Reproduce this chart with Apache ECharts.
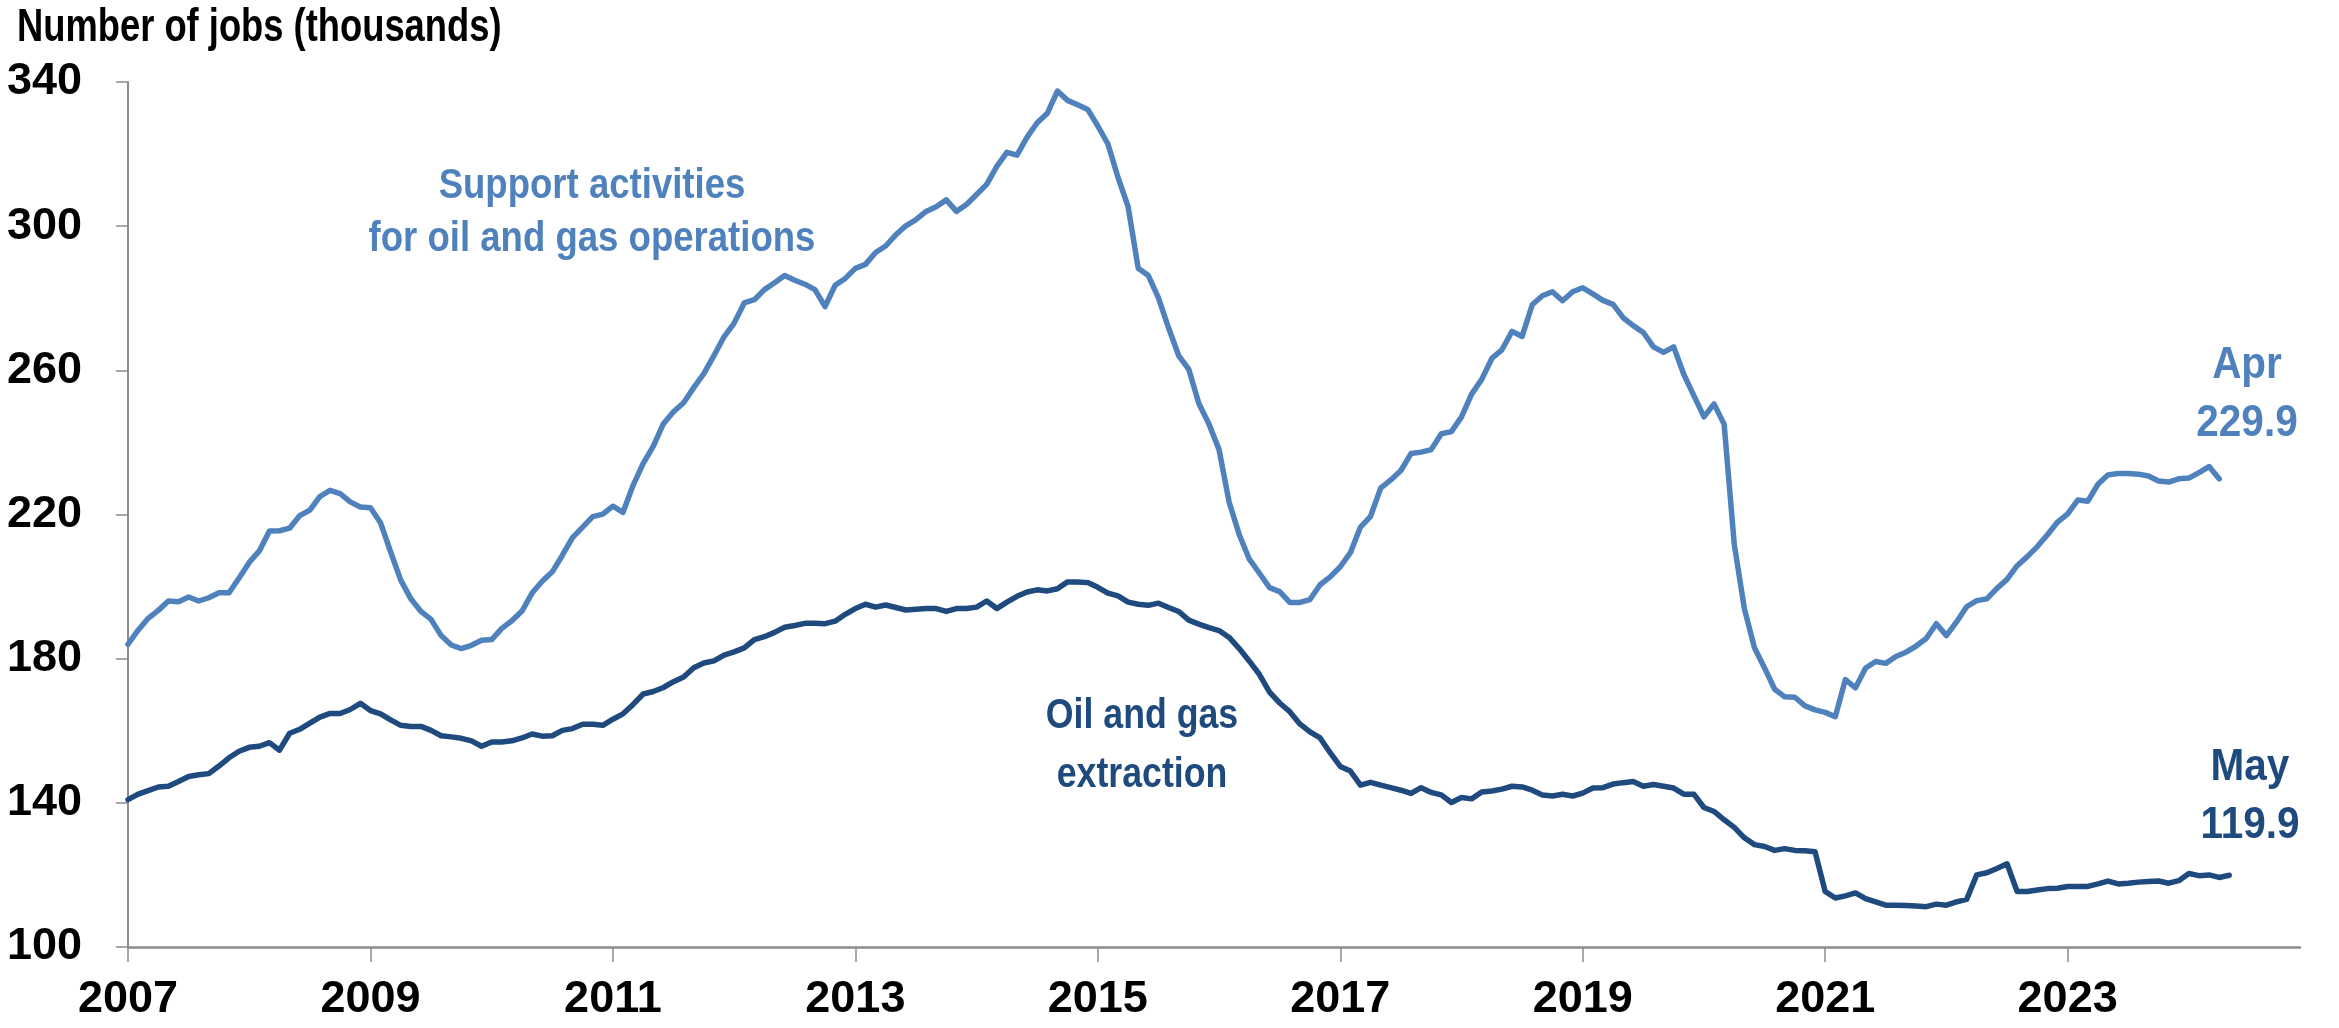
<!DOCTYPE html>
<html>
<head>
<meta charset="utf-8">
<title>Oil and gas jobs</title>
<script src="https://cdn.jsdelivr.net/npm/echarts@6/dist/echarts.min.js"></script>
<style>
  html, body { margin: 0; padding: 0; background: #fff; }
  #chart { width: 2339px; height: 1028px; }
</style>
</head>
<body>
<div id="chart"></div>
<script>
// monthly series, Jan 2007 onward (thousands of jobs)
var startYear = 2007;
var yearTicks = [2007, 2009, 2011, 2013, 2015, 2017, 2019, 2021, 2023];

// Support activities for oil and gas operations, Jan 2007 - Apr 2024
var supportJobs = [
  184.0, 187.9, 191.2, 193.4, 196.0, 195.8, 197.1, 196.0, 196.9, 198.3, 198.3, 202.4,
  206.7, 209.9, 215.4, 215.5, 216.2, 219.7, 221.2, 225.0, 226.7, 225.8, 223.5, 222.1,
  221.9, 217.7, 209.6, 201.8, 196.6, 193.1, 190.9, 186.4, 183.8, 182.8, 183.7, 185.1,
  185.3, 188.4, 190.5, 193.2, 198.2, 201.5, 204.1, 208.7, 213.6, 216.5, 219.4, 220.1,
  222.3, 220.6, 228.1, 234.2, 239.0, 245.2, 248.5, 251.0, 255.2, 259.1, 264.1, 269.3,
  273.1, 278.7, 279.6, 282.4, 284.3, 286.3, 285.0, 283.9, 282.4, 277.7, 283.6, 285.5,
  288.3, 289.4, 292.7, 294.5, 297.6, 300.1, 301.8, 304.1, 305.4, 307.3, 304.1, 306.0,
  308.8, 311.6, 316.6, 320.5, 319.7, 324.7, 328.7, 331.3, 337.5, 334.9, 333.7, 332.4,
  327.8, 322.8, 313.5, 305.4, 288.3, 286.3, 280.1, 271.8, 264.1, 260.3, 250.8, 245.1,
  238.0, 223.4, 214.4, 207.6, 203.7, 199.7, 198.6, 195.6, 195.6, 196.4, 200.5, 202.7,
  205.5, 209.4, 216.5, 219.5, 227.3, 229.6, 232.2, 236.9, 237.3, 238.0, 242.4, 243.0,
  247.1, 253.4, 257.5, 263.3, 265.7, 270.8, 269.4, 278.2, 280.7, 281.8, 279.3, 281.8,
  282.9, 281.2, 279.4, 278.3, 274.6, 272.4, 270.5, 266.5, 265.0, 266.5, 258.9, 253.0,
  247.1, 250.7, 245.0, 211.7, 193.9, 183.0, 177.4, 171.5, 169.4, 169.3, 166.9, 165.8,
  165.1, 163.9, 174.2, 171.9, 177.4, 179.2, 178.7, 180.6, 181.8, 183.5, 185.6, 189.7,
  186.4, 190.2, 194.4, 196.1, 196.6, 199.5, 202.0, 205.8, 208.3, 211.1, 214.4, 217.9,
  220.2, 224.0, 223.7, 228.4, 231.0, 231.4, 231.4, 231.2, 230.7, 229.3, 229.0, 229.9,
  230.1, 231.6, 233.3, 229.9
];

// Oil and gas extraction, Jan 2007 - May 2024
var extractionJobs = [
  140.9, 142.4, 143.4, 144.4, 144.6, 145.9, 147.3, 147.8, 148.1, 150.2, 152.5, 154.3,
  155.4, 155.7, 156.7, 154.6, 159.3, 160.4, 162.1, 163.8, 164.8, 164.8, 165.9, 167.6,
  165.6, 164.7, 163.0, 161.5, 161.2, 161.2, 160.1, 158.6, 158.3, 157.9, 157.2, 155.7,
  156.9, 156.9, 157.2, 158.0, 159.1, 158.5, 158.6, 160.1, 160.6, 161.8, 161.8, 161.5,
  163.2, 164.7, 167.3, 170.2, 170.9, 172.0, 173.6, 174.9, 177.5, 178.8, 179.4, 181.0,
  181.9, 183.0, 185.3, 186.1, 187.3, 188.7, 189.2, 189.8, 189.8, 189.7, 190.4, 192.3,
  193.9, 195.1, 194.3, 194.9, 194.2, 193.5, 193.7, 193.9, 193.9, 193.1, 193.9, 193.9,
  194.3, 196.0, 193.9, 195.7, 197.3, 198.5, 199.1, 198.8, 199.4, 201.3, 201.3, 201.1,
  199.8, 198.2, 197.4, 195.7, 195.1, 194.8, 195.4, 194.2, 193.1, 190.7, 189.6, 188.6,
  187.8, 185.9, 182.8, 179.3, 175.6, 170.7, 167.7, 165.3, 161.9, 159.7, 158.0, 153.9,
  150.1, 148.8, 144.9, 145.7, 144.9, 144.2, 143.5, 142.6, 144.2, 142.9, 142.2, 140.1,
  141.5, 141.1, 143.0, 143.3, 143.8, 144.6, 144.4, 143.5, 142.2, 141.9, 142.4, 141.9,
  142.7, 144.1, 144.2, 145.2, 145.6, 145.9, 144.6, 145.1, 144.6, 144.1, 142.4, 142.4,
  138.7, 137.6, 135.3, 133.2, 130.3, 128.4, 127.9, 126.8, 127.3, 126.8, 126.7, 126.4,
  115.4, 113.6, 114.2, 115.0, 113.4, 112.5, 111.6, 111.6, 111.5, 111.4, 111.2, 111.9,
  111.6, 112.5, 113.2, 120.0, 120.6, 121.8, 123.1, 115.4, 115.4, 115.8, 116.2, 116.3,
  116.8, 116.8, 116.8, 117.5, 118.3, 117.5, 117.7, 118.0, 118.2, 118.3, 117.7, 118.4,
  120.4, 119.8, 120.0, 119.3, 119.9
];

var yTicks = [100, 140, 180, 220, 260, 300, 340];

var lightBlue = "#4f81bd";
var darkBlue = "#1f4a7e";
var fontFam = "'Liberation Sans', Arial, sans-serif";

// x = months since Jan 2007
function toPairs(list) {
  return list.map(function (v, i) { return [i, v]; });
}

// narrowed bold text (no condensed face installed, so squeeze horizontally)
function note(x, y, text, size, color, lh, sx, align, valign) {
  return {
    type: "text", x: x, y: y, scaleX: sx, scaleY: 1,
    style: {
      text: text,
      font: "bold " + size + "px " + fontFam, fill: color,
      textAlign: align || "center", textVerticalAlign: valign || "middle", lineHeight: lh
    }
  };
}

var chart = echarts.init(document.getElementById("chart"));

var option = {
  animation: false,
  backgroundColor: "#fff",
  grid: { left: 128, right: 39, top: 82, bottom: 81, containLabel: false, outerBoundsMode: "none" },
  xAxis: {
    type: "value",
    min: 0,
    max: 215,
    interval: 24,
    axisLine: { show: true, onZero: false, lineStyle: { color: "#8c8c8c", width: 2.5 } },
    axisTick: { show: true, inside: false, length: 15, lineStyle: { color: "#8c8c8c", width: 1.5 } },
    splitLine: { show: false },
    axisLabel: {
      margin: 30,
      showMaxLabel: false,
      fontFamily: fontFam,
      fontWeight: "bold",
      fontSize: 45,
      color: "#000",
      formatter: function (v) {
        var y = startYear + v / 12;
        return yearTicks.indexOf(y) >= 0 ? String(y) : "";
      }
    }
  },
  yAxis: {
    type: "value",
    min: yTicks[0],
    max: yTicks[yTicks.length - 1],
    interval: 40,
    axisLine: { show: true, lineStyle: { color: "#8c8c8c", width: 2 } },
    axisTick: { show: true, inside: false, length: 12, lineStyle: { color: "#8c8c8c", width: 1.5 } },
    splitLine: { show: false },
    axisLabel: { margin: 46, fontFamily: fontFam, fontWeight: "bold", fontSize: 45, color: "#000" }
  },
  series: [
    {
      name: "Support activities for oil and gas operations",
      type: "line",
      showSymbol: false,
      data: toPairs(supportJobs),
      lineStyle: { color: lightBlue, width: 5.5, cap: "round", join: "round" },
      z: 3
    },
    {
      name: "Oil and gas extraction",
      type: "line",
      showSymbol: false,
      data: toPairs(extractionJobs),
      lineStyle: { color: darkBlue, width: 5.5, cap: "round", join: "round" },
      z: 4
    }
  ],
  graphic: [
    note(17, 3, "Number of jobs (thousands)", 46, "#000", 50, 0.79, "left", "top"),
    note(592, 213, "Support activities\nfor oil and gas operations", 43, lightBlue, 53, 0.85),
    note(1142, 746, "Oil and gas\nextraction", 43, darkBlue, 59, 0.83),
    note(2247, 395, "Apr\n229.9", 45, lightBlue, 58, 0.9),
    note(2250, 797, "May\n119.9", 45, darkBlue, 58, 0.9)
  ]
};

chart.setOption(option);
window.addEventListener("resize", function () {
  if (chart) chart.resize();
});
</script>
</body>
</html>
